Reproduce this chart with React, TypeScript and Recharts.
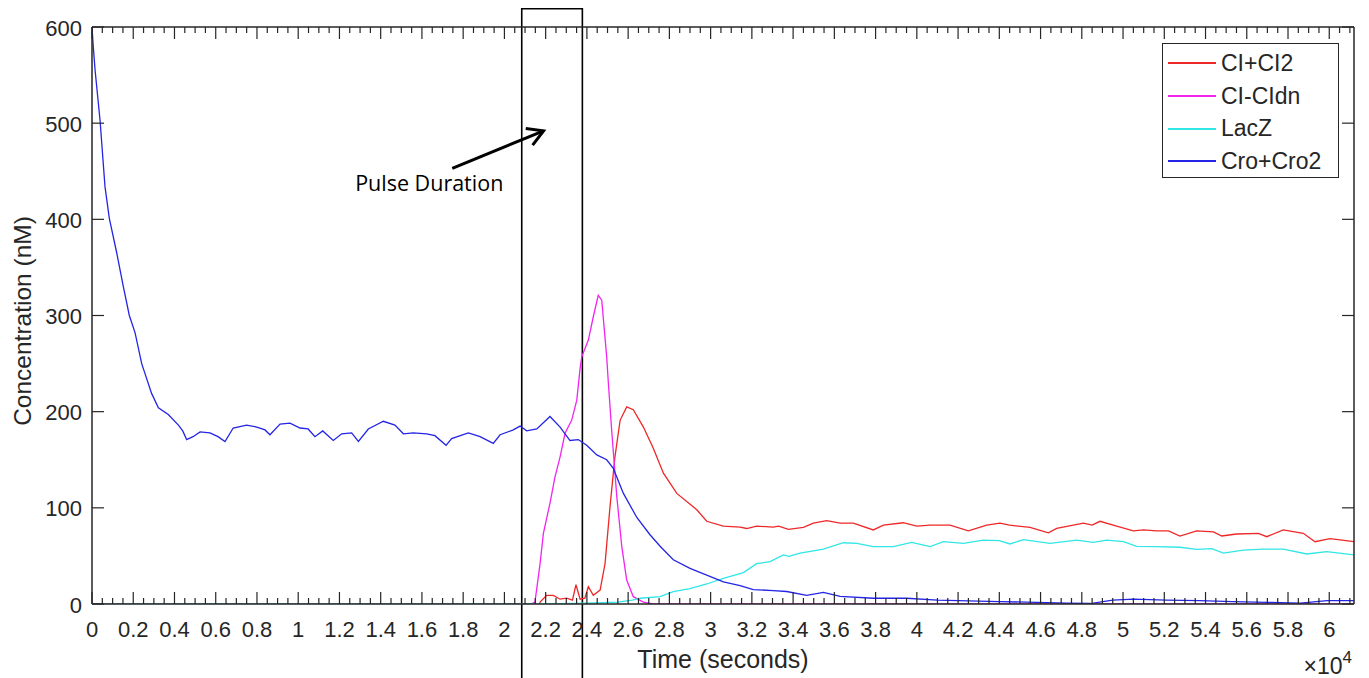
import React from "react"
import { LineChart, Line, XAxis, YAxis, ReferenceArea, ReferenceLine, Legend } from "recharts"

// time is in units of 1e4 seconds, concentration in nM
const ciTime = [0, 2.17, 2.173, 2.205, 2.237, 2.27, 2.302, 2.33, 2.347, 2.367, 2.39, 2.407, 2.431, 2.464, 2.488, 2.512, 2.536, 2.561, 2.593, 2.625, 2.674, 2.722, 2.771, 2.836, 2.933, 2.981, 3.062, 3.143, 3.175, 3.223, 3.304, 3.33, 3.377, 3.45, 3.498, 3.563, 3.628, 3.692, 3.789, 3.838, 3.934, 4.0, 4.064, 4.161, 4.25, 4.339, 4.403, 4.45, 4.549, 4.638, 4.678, 4.808, 4.85, 4.888, 4.969, 5.05, 5.1, 5.163, 5.22, 5.276, 5.357, 5.438, 5.479, 5.551, 5.656, 5.697, 5.777, 5.874, 5.931, 6.004, 6.12]
const ciValue = [0, 0, 2, 9, 9, 5, 6, 4, 20, 5, 6, 18, 9, 14.5, 42, 101, 153, 191, 205, 202, 184, 162, 136, 115, 98, 86, 81, 80, 78.5, 81, 80, 81, 77.6, 79.7, 84, 86.6, 84, 84, 77, 82, 84.5, 81, 82, 82, 76, 82, 84, 82, 79.7, 74, 78.7, 84, 82, 86, 81, 76, 77, 76, 76, 70.7, 76, 75, 70.7, 72.8, 73.5, 70, 77, 73.5, 64.8, 68, 64.8]

const cidnTime = [0, 2.13, 2.148, 2.173, 2.189, 2.221, 2.245, 2.27, 2.294, 2.326, 2.351, 2.367, 2.375, 2.407, 2.431, 2.455, 2.472, 2.496, 2.504, 2.52, 2.545, 2.569, 2.593, 2.625, 2.674, 2.72, 6.12]
const cidnValue = [0, 0, 2, 42, 73.5, 105, 132, 153, 177.5, 191, 212, 245, 257, 274.5, 298.7, 321, 316, 257, 230, 181, 111.6, 60, 25, 7.6, 2, 0, 0]

const laczTime = [0, 2.2, 2.4, 2.55, 2.62, 2.658, 2.755, 2.819, 2.9, 2.981, 3.062, 3.159, 3.223, 3.288, 3.353, 3.38, 3.434, 3.547, 3.644, 3.709, 3.789, 3.886, 3.975, 4.064, 4.129, 4.226, 4.323, 4.4, 4.452, 4.517, 4.646, 4.775, 4.856, 4.921, 5.002, 5.066, 5.163, 5.276, 5.357, 5.43, 5.487, 5.583, 5.68, 5.777, 5.891, 5.988, 6.12]
const laczValue = [0, 0, 1, 2, 4, 6, 7.6, 12.8, 16, 20.8, 26.7, 32.6, 42, 44, 51, 49.5, 53, 57, 63.7, 63, 59.6, 59.6, 64, 59.6, 64.8, 63, 66.5, 66, 62.4, 67, 63, 66.5, 64, 66.5, 64.8, 60, 59.6, 59, 56.9, 57.6, 53, 56, 57, 57, 52, 54.4, 51]

const croTime = [0, 0.005, 0.015, 0.039, 0.063, 0.084, 0.12, 0.152, 0.181, 0.209, 0.241, 0.289, 0.322, 0.37, 0.419, 0.44, 0.459, 0.49, 0.524, 0.572, 0.611, 0.645, 0.685, 0.75, 0.799, 0.839, 0.863, 0.912, 0.96, 1.009, 1.048, 1.081, 1.119, 1.17, 1.211, 1.259, 1.292, 1.34, 1.413, 1.469, 1.51, 1.558, 1.623, 1.663, 1.717, 1.744, 1.825, 1.882, 1.946, 1.979, 2.043, 2.076, 2.108, 2.157, 2.221, 2.27, 2.318, 2.358, 2.399, 2.448, 2.496, 2.528, 2.577, 2.642, 2.706, 2.755, 2.819, 2.9, 2.981, 3.062, 3.143, 3.207, 3.304, 3.369, 3.466, 3.547, 3.628, 3.789, 3.951, 4.1, 4.4, 4.73, 4.84, 4.95, 5.05, 5.21, 5.37, 5.53, 5.7, 5.86, 5.99, 6.12]
const croValue = [600, 583, 555, 503, 434, 401, 365, 330, 300, 282, 250, 219, 204, 197, 186, 180, 171, 174, 179, 178, 174, 169, 183, 186, 184, 181, 176, 187, 188, 183, 182, 174, 180, 170, 177, 178, 169, 182, 190, 186, 177, 178, 177, 175, 165, 172, 178, 174, 167, 176, 181, 185, 180, 182, 195, 184, 170, 171, 165, 155, 150, 141, 115, 90, 72, 60, 46, 37, 30, 23, 19, 15, 14, 13, 9, 12, 8, 6, 6, 4, 2.5, 1, 0.5, 4, 5, 4, 3.5, 2.5, 1.7, 1, 3.5, 3.5]

const seriesList = [
  { name: "CI+CI2", color: "#ee2828", time: ciTime, value: ciValue },
  { name: "CI-CIdn", color: "#f025f0", time: cidnTime, value: cidnValue },
  { name: "LacZ", color: "#30e6e6", time: laczTime, value: laczValue },
  { name: "Cro+Cro2", color: "#2424e6", time: croTime, value: croValue },
]

const xMajorTicks = [0, 0.2, 0.4, 0.6, 0.8, 1, 1.2, 1.4, 1.6, 1.8, 2, 2.2, 2.4, 2.6, 2.8, 3, 3.2, 3.4, 3.6, 3.8, 4, 4.2, 4.4, 4.6, 4.8, 5, 5.2, 5.4, 5.6, 5.8, 6]
const yTicks = [0, 100, 200, 300, 400, 500, 600]
const xMax = 6.12

// the boxed pulse window and the arrow pointing at it
const pulseStart = 2.084
const pulseEnd = 2.378
const arrowFrom = { x: 1.747, y: 453 }
const arrowTo = { x: 2.19, y: 492 }

const AXIS = "#262626"
const FONT = "'Liberation Sans', Arial, sans-serif"

const allXTicks = xMajorTicks
  .flatMap((t) => [t, t + 0.05, t + 0.1, t + 0.15])
  .map((t) => Math.round(t * 100) / 100)
  .filter((t) => t <= xMax)

const isMajor = (v: number) => Math.abs(v * 5 - Math.round(v * 5)) < 1e-6
const fmtTick = (v: number) => String(Math.round(v * 10) / 10)

function BottomTick({ x, y, payload }: any) {
  const major = isMajor(payload.value)
  return (
    <g>
      <line x1={x} x2={x} y1={y} y2={y - (major ? 12 : 6)} stroke={AXIS} strokeWidth={1.2} />
      {major && (
        <text x={x} y={y + 33} textAnchor="middle" fontSize={22} fill={AXIS} fontFamily={FONT}>
          {fmtTick(payload.value)}
        </text>
      )}
    </g>
  )
}

function TopTick({ x, y, payload }: any) {
  const major = isMajor(payload.value)
  return <line x1={x} x2={x} y1={y} y2={y + (major ? 12 : 6)} stroke={AXIS} strokeWidth={1.2} />
}

function LeftTick({ x, y, payload }: any) {
  return (
    <g>
      <line x1={x} x2={x + 12} y1={y} y2={y} stroke={AXIS} strokeWidth={1.2} />
      <text x={x - 10} y={y + 8.5} textAnchor="end" fontSize={22} fill={AXIS} fontFamily={FONT}>
        {payload.value}
      </text>
    </g>
  )
}

function RightTick({ x, y }: any) {
  return <line x1={x} x2={x - 12} y1={y} y2={y} stroke={AXIS} strokeWidth={1.2} />
}

function XTitle({ viewBox }: any) {
  const { x, y, width } = viewBox
  return (
    <g fontFamily={FONT} fill={AXIS}>
      <text x={x + width / 2} y={y + 64} textAnchor="middle" fontSize={25}>
        Time (seconds)
      </text>
      <text x={x + width - 2} y={y + 70} textAnchor="end" fontSize={23}>
        ×10<tspan dy={-11} fontSize={17}>4</tspan>
      </text>
    </g>
  )
}

function YTitle({ viewBox }: any) {
  const cx = viewBox.x - 1
  const cy = 321
  return (
    <text
      x={cx}
      y={cy}
      transform={`rotate(-90, ${cx}, ${cy})`}
      textAnchor="middle"
      fontSize={24.5}
      fill={AXIS}
      fontFamily={FONT}
    >
      Concentration (nM)
    </text>
  )
}

function ArrowShape({ x1, y1, x2, y2 }: any) {
  const back = Math.atan2(y1 - y2, x1 - x2)
  const arm = 18
  const a1 = back + Math.PI / 6
  const a2 = back - Math.PI / 6
  const pts = `${x2 + arm * Math.cos(a1)},${y2 + arm * Math.sin(a1)} ${x2},${y2} ${x2 + arm * Math.cos(a2)},${y2 + arm * Math.sin(a2)}`
  return (
    <g>
      <line x1={x1} y1={y1} x2={x2} y2={y2} stroke="#000" strokeWidth={3} />
      <polyline points={pts} fill="none" stroke="#000" strokeWidth={3} strokeLinejoin="miter" />
      <text x={x1 - 23} y={y1 + 23} textAnchor="middle" fontSize={21.5} fill="#000" fontFamily="'Open Sans', sans-serif">
        Pulse Duration
      </text>
    </g>
  )
}

function LegendBox() {
  return (
    <div
      style={{
        width: 177,
        height: 135,
        boxSizing: "border-box",
        border: `1.5px solid ${AXIS}`,
        background: "#fff",
        paddingTop: 3,
        paddingLeft: 5,
        fontFamily: FONT,
      }}
    >
      {seriesList.map((s) => (
        <div key={s.name} style={{ display: "flex", alignItems: "center", height: 32.7 }}>
          <div style={{ width: 48, height: 2, flexShrink: 0, background: s.color }} />
          <span style={{ marginLeft: 5, fontSize: 23, color: AXIS, lineHeight: "32.7px" }}>{s.name}</span>
        </div>
      ))}
    </div>
  )
}

export default function App() {
  return (
    <div style={{ position: "absolute", left: 0, top: 0, width: 1369, height: 678, background: "#fff" }}>
      <LineChart width={1369} height={678} margin={{ top: 26, right: 14, bottom: 4, left: 32 }}>
        <XAxis
          type="number"
          dataKey="t"
          domain={[0, xMax]}
          ticks={allXTicks}
          interval={0}
          allowDataOverflow
          height={70}
          tickSize={0}
          tickMargin={0}
          tick={<BottomTick />}
          axisLine={{ stroke: AXIS, strokeWidth: 1.5 }}
          label={(p: any) => <XTitle {...p} />}
        />
        <XAxis
          xAxisId="top"
          orientation="top"
          type="number"
          dataKey="t"
          domain={[0, xMax]}
          ticks={allXTicks}
          interval={0}
          allowDataOverflow
          height={1}
          tickSize={0}
          tickMargin={0}
          tick={<TopTick />}
          axisLine={{ stroke: AXIS, strokeWidth: 1.5 }}
        />
        <YAxis
          type="number"
          domain={[0, 600]}
          ticks={yTicks}
          interval={0}
          allowDataOverflow
          width={60}
          tickSize={0}
          tickMargin={0}
          tick={<LeftTick />}
          axisLine={{ stroke: AXIS, strokeWidth: 1.5 }}
          label={(p: any) => <YTitle {...p} />}
        />
        <YAxis
          yAxisId="right"
          orientation="right"
          type="number"
          domain={[0, 600]}
          ticks={yTicks}
          interval={0}
          allowDataOverflow
          width={1}
          tickSize={0}
          tickMargin={0}
          tick={<RightTick />}
          axisLine={{ stroke: AXIS, strokeWidth: 1.5 }}
        />
        {seriesList.map((s) => (
          <Line
            key={s.name}
            name={s.name}
            data={s.time.map((t, i) => ({ t, v: s.value[i] }))}
            dataKey="v"
            type="linear"
            stroke={s.color}
            strokeWidth={1.3}
            dot={false}
            activeDot={false}
            isAnimationActive={false}
          />
        ))}
        <ReferenceArea
          x1={pulseStart}
          x2={pulseEnd}
          y1={-80}
          y2={619}
          ifOverflow="visible"
          fill="none"
          fillOpacity={0}
          stroke="#000"
          strokeWidth={1.6}
        />
        <ReferenceLine segment={[arrowFrom, arrowTo]} shape={(p: any) => <ArrowShape {...p} />} />
        <Legend
          content={() => <LegendBox />}
          layout="horizontal"
          align="center"
          verticalAlign="middle"
          wrapperStyle={{ left: 1162, top: 43, width: 177, height: 135 }}
        />
      </LineChart>
    </div>
  )
}
